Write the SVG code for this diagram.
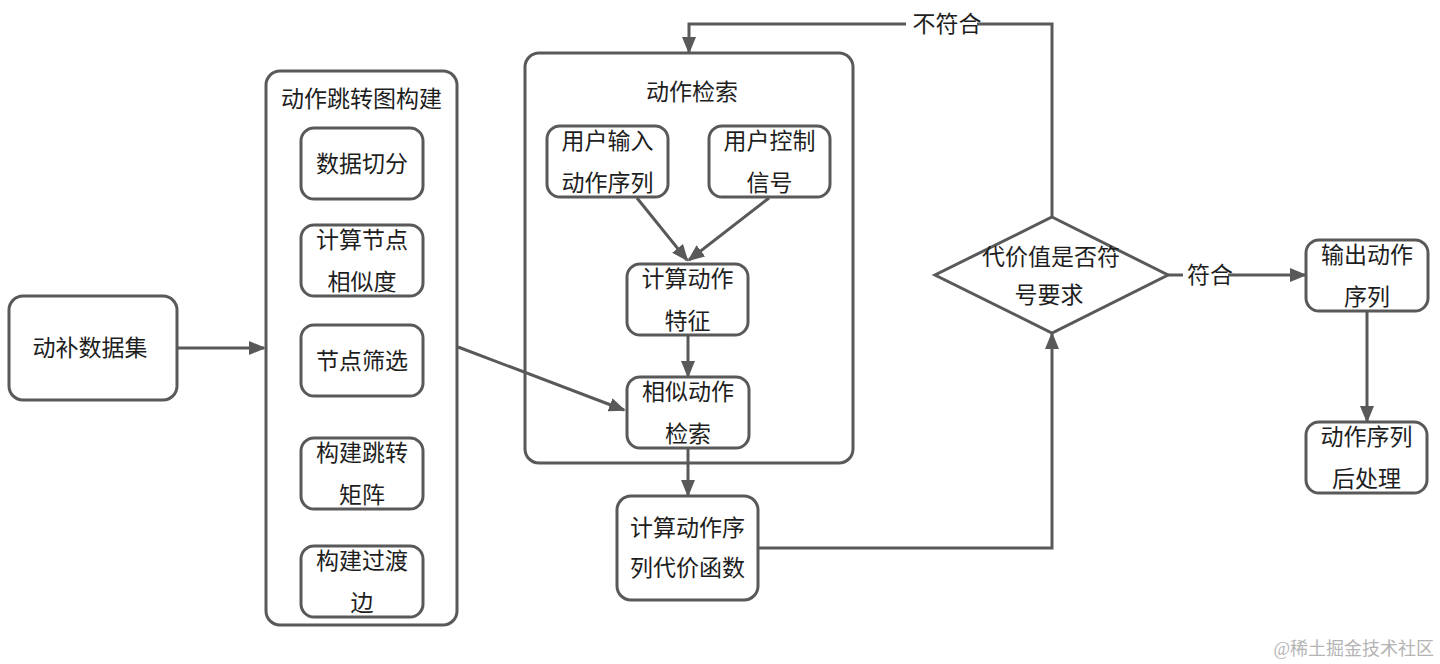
<svg xmlns="http://www.w3.org/2000/svg" width="1440" height="664" viewBox="0 0 1440 664">
<defs>
<style>
.box{fill:#fff;stroke:#595959;stroke-width:3}
.cont{fill:none;stroke:#595959;stroke-width:3}
.t{font-family:"Noto Sans CJK SC","Noto Sans",sans-serif;font-size:23px;fill:#1e1e1e;text-anchor:middle}
.ln{fill:none;stroke:#595959;stroke-width:3}
.wm{font-family:"Liberation Serif","Noto Sans CJK SC",serif;font-size:18px;fill:#b4b4b4;text-anchor:end}
</style>
<marker id="ah" markerUnits="userSpaceOnUse" markerWidth="18" markerHeight="14" refX="15" refY="7" orient="auto">
<path d="M0,0 L17,7 L0,14 z" fill="#595959"/>
</marker>
</defs>
<rect width="1440" height="664" fill="#fff"/>

<g id="containers">
<rect class="cont" x="266" y="71" width="191" height="554" rx="14"/>
<text class="t" x="361.5" y="107">动作跳转图构建</text>
<rect class="cont" x="525" y="53" width="328" height="410" rx="14"/>
<text class="t" x="692" y="100">动作检索</text>
</g>

<g id="connectors">
<path class="ln" d="M177,348 H264" marker-end="url(#ah)"/>
<path class="ln" d="M458,347 L624,410" marker-end="url(#ah)"/>
<path class="ln" d="M637,198 L687,260" marker-end="url(#ah)"/>
<path class="ln" d="M769,198 L689,260" marker-end="url(#ah)"/>
<path class="ln" d="M688,335 V376" marker-end="url(#ah)"/>
<path class="ln" d="M688,448 V495" marker-end="url(#ah)"/>
<path class="ln" d="M758,548 H1052 V334" marker-end="url(#ah)"/>
<path class="ln" d="M1052,217 V24 H689 V52" marker-end="url(#ah)"/>
<path class="ln" d="M1168,275 H1305" marker-end="url(#ah)"/>
<path class="ln" d="M1367,311 V421" marker-end="url(#ah)"/>
<rect x="906" y="11" width="71" height="26" fill="#fff"/>
<text class="t" x="947" y="32">不符合</text>
<rect x="1183" y="262" width="45" height="26" fill="#fff"/>
<text class="t" x="1210" y="283">符合</text>
</g>

<g id="n-dataset">
<rect class="box" x="9" y="296" width="168" height="104" rx="14"/>
<text class="t" x="90" y="356">动补数据集</text>
</g>
<g id="n-split">
<rect class="box" x="301" y="128" width="122" height="71" rx="13"/>
<text class="t" x="362" y="171.5">数据切分</text>
</g>
<g id="n-sim">
<rect class="box" x="301" y="225" width="122" height="71" rx="13"/>
<text class="t" x="362" y="247.5">计算节点</text>
<text class="t" x="362" y="289.5">相似度</text>
</g>
<g id="n-filter">
<rect class="box" x="301" y="325" width="122" height="71" rx="13"/>
<text class="t" x="362" y="368.5">节点筛选</text>
</g>
<g id="n-matrix">
<rect class="box" x="301" y="438" width="122" height="71" rx="13"/>
<text class="t" x="362" y="460.5">构建跳转</text>
<text class="t" x="362" y="502.5">矩阵</text>
</g>
<g id="n-edge">
<rect class="box" x="301" y="546" width="122" height="71" rx="13"/>
<text class="t" x="362" y="568.5">构建过渡</text>
<text class="t" x="362" y="610.5">边</text>
</g>

<g id="n-userseq">
<rect class="box" x="547" y="126" width="121" height="71" rx="13"/>
<text class="t" x="607.5" y="148.5">用户输入</text>
<text class="t" x="607.5" y="190.5">动作序列</text>
</g>
<g id="n-userctrl">
<rect class="box" x="709" y="126" width="121" height="71" rx="13"/>
<text class="t" x="769.5" y="148.5">用户控制</text>
<text class="t" x="769.5" y="190.5">信号</text>
</g>
<g id="n-feature">
<rect class="box" x="627" y="264" width="121" height="71" rx="13"/>
<text class="t" x="687.5" y="286.5">计算动作</text>
<text class="t" x="687.5" y="328.5">特征</text>
</g>
<g id="n-search">
<rect class="box" x="627" y="377" width="122" height="71" rx="13"/>
<text class="t" x="688" y="399.5">相似动作</text>
<text class="t" x="688" y="441.5">检索</text>
</g>
<g id="n-cost">
<rect class="box" x="617" y="496" width="141" height="104" rx="14"/>
<text class="t" x="687.5" y="536">计算动作序</text>
<text class="t" x="687.5" y="576">列代价函数</text>
</g>

<g id="n-decision">
<polygon class="box" points="1052,217 1168,275 1052,333 935,275"/>
<text class="t" x="1051" y="265">代价值是否符</text>
<text class="t" x="1049" y="303">号要求</text>
</g>

<g id="n-output">
<rect class="box" x="1306" y="240" width="122" height="71" rx="13"/>
<text class="t" x="1367" y="262.5">输出动作</text>
<text class="t" x="1367" y="304.5">序列</text>
</g>
<g id="n-post">
<rect class="box" x="1306" y="422" width="121" height="71" rx="13"/>
<text class="t" x="1366.5" y="444.5">动作序列</text>
<text class="t" x="1366.5" y="486.5">后处理</text>
</g>

<text class="wm" x="1434" y="655">@稀土掘金技术社区</text>
</svg>
